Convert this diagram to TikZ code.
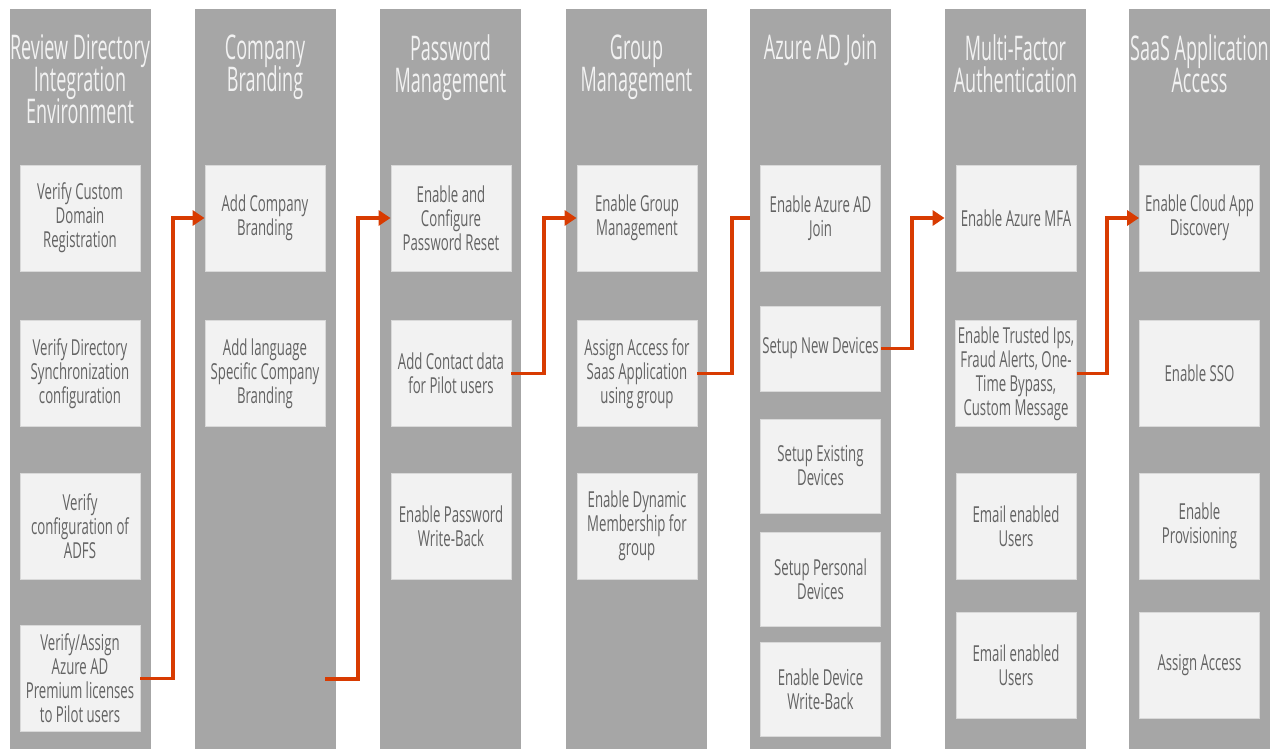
\documentclass[tikz,border=0pt]{standalone}
\usepackage{fontspec}
\setmainfont[FakeStretch=0.6]{Open Sans}
\newfontfamily\lanefont[FakeStretch=0.53]{Open Sans}
\newcommand\lanesize{\lanefont\fontsize{17}{16}\selectfont\lineskiplimit-8pt\relax}
\usetikzlibrary{arrows.meta}
\definecolor{lane}{HTML}{A6A6A6}
\definecolor{card}{HTML}{F2F2F2}
\definecolor{cardline}{HTML}{D9D9D9}
\definecolor{cardtext}{HTML}{636363}
\definecolor{flowred}{HTML}{D83B01}

\begin{document}
\begin{tikzpicture}[x=0.5pt,y=-0.5pt,
    lanebox/.style={fill=lane,minimum width=70.5pt,minimum height=370pt,anchor=north,inner sep=0pt},
    lanetitle/.style={anchor=north,align=center,text=card,font=\lanesize,inner sep=0pt},
    task/.style={fill=card,draw=cardline,line width=.4pt,minimum width=60pt,minimum height=53pt,
      align=center,text=cardtext,font=\fontsize{11}{12}\selectfont,inner sep=1pt},
    taskS/.style={task,minimum height=47pt},
    flow/.style={draw=flowred,line width=1.75pt},
    tip/.style={-{Triangle[length=6pt,width=7.5pt]}}]
  \useasboundingbox (0,0) rectangle (1275,749);
  % lanes
  \node[lanebox] (c1) at (80,9) {};
  \node[lanebox] (c2) at (265,9) {};
  \node[lanebox] (c3) at (450.5,9) {};
  \node[lanebox] (c4) at (636.5,9) {};
  \node[lanebox] (c5) at (820.5,9) {};
  \node[lanebox] (c6) at (1015.5,9) {};
  \node[lanebox] (c7) at (1199.5,9) {};
  \node[lanetitle] (t1) at (80,34) {Review Directory\\Integration\\Environment};
  \node[lanetitle] (t2) at (265,34) {Company\\Branding};
  \node[lanetitle] (t3) at (450.5,34) {Password\\Management};
  \node[lanetitle] (t4) at (636.5,34) {Group\\Management};
  \node[lanetitle] (t5) at (820.5,34) {Azure AD Join};
  \node[lanetitle] (t6) at (1015.5,34) {Multi-Factor\\Authentication};
  \node[lanetitle] (t7) at (1199.5,34) {SaaS Application\\Access};
  % tasks
  \node[task] (r1) at (80,218) {Verify Custom\\Domain\\Registration};
  \node[task] (r2) at (80,373.5) {Verify Directory\\Synchronization\\configuration};
  \node[task] (r3) at (80,526) {Verify\\configuration of\\ADFS};
  \node[task] (r4) at (80,678.5) {Verify/Assign\\Azure AD\\Premium licenses\\to Pilot users};
  \node[task] (b1) at (265,218) {Add Company\\Branding};
  \node[task] (b2) at (265,373.5) {Add language\\Specific Company\\Branding};
  \node[task] (p1) at (451,218) {Enable and\\Configure\\Password Reset};
  \node[task] (p2) at (451,373.5) {Add Contact data\\for Pilot users};
  \node[task] (p3) at (451,526) {Enable Password\\Write-Back};
  \node[task] (g1) at (637,218) {Enable Group\\Management};
  \node[task] (g2) at (637,373.5) {Assign Access for\\Saas Application\\using group};
  \node[task] (g3) at (637,526) {Enable Dynamic\\Membership for\\group};
  \node[task] (j1) at (820.5,218) {Enable Azure AD\\Join};
  \node[taskS,minimum height=42.5pt] (j2) at (820.5,348.5) {Setup New Devices};
  \node[taskS] (j3) at (820.5,466) {Setup Existing\\Devices};
  \node[taskS] (j4) at (820.5,579) {Setup Personal\\Devices};
  \node[taskS] (j5) at (820.5,689) {Enable Device\\Write-Back};
  \node[task] (m1) at (1016,218) {Enable Azure MFA};
  \node[task] (m2) at (1016,373.5) {Enable Trusted Ips,\\Fraud Alerts, One-\\Time Bypass,\\Custom Message};
  \node[task] (m3) at (1016,526) {Email enabled\\Users};
  \node[task] (m4) at (1016,665) {Email enabled\\Users};
  \node[task] (s1) at (1199.5,218) {Enable Cloud App\\Discovery};
  \node[task] (s2) at (1199.5,373.5) {Enable SSO};
  \node[task] (s3) at (1199.5,526) {Enable\\Provisioning};
  \node[task] (s4) at (1199.5,665) {Assign Access};
  % connectors
  \coordinate (k1) at (173,218);
  \coordinate (k2) at (358,218);
  \coordinate (k3) at (544,218);
  \coordinate (k4) at (732,218);
  \coordinate (k5) at (912,218);
  \coordinate (k6) at (1107,218);
  \coordinate (b2out) at (325,679);
  \draw[flow,tip] (r4.east) -| (k1) -- (b1.west);
  \draw[flow,tip] (b2out) -| (k2) -- (p1.west);
  \draw[flow,tip] (p2.east) -| (k3) -- (g1.west);
  \draw[flow] (g2.east) -| (k4) -- (c5.west |- k4);
  \draw[flow,tip] (j2.east) -| (k5) -- (c6.west |- k5);
  \draw[flow,tip] (m2.east) -| (k6) -- (s1.west);
\end{tikzpicture}
\end{document}
